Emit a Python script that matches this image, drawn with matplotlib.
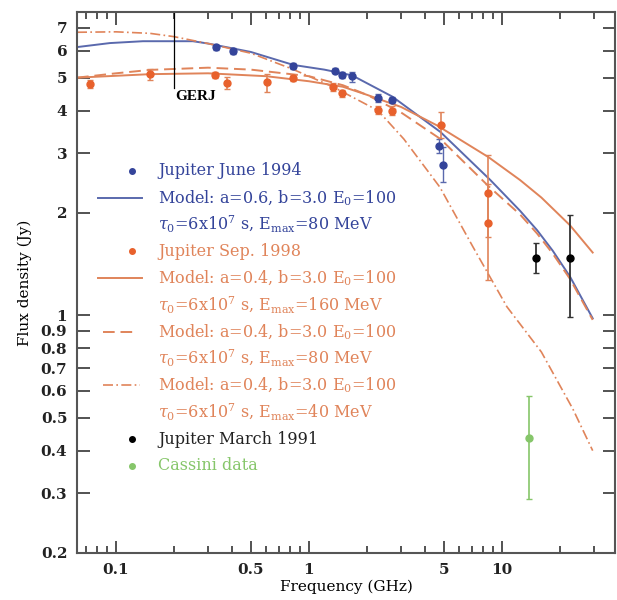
import matplotlib
matplotlib.use('Agg')
import matplotlib.pyplot as plt
from matplotlib.ticker import FixedLocator, FixedFormatter, NullFormatter

plt.rcParams['font.family'] = 'DejaVu Serif'
plt.rcParams['mathtext.fontset'] = 'dejavuserif'

# ---- data ----
# Jupiter June 1994 (blue)
jun94_f = [0.330, 0.404, 0.826, 1.36, 1.48, 1.67, 2.28, 2.69, 4.72, 4.94]
jun94_s = [6.15, 5.97, 5.41, 5.24, 5.10, 5.04, 4.36, 4.30, 3.15, 2.77]
jun94_lo = [6.05, 5.85, 5.30, 5.15, 5.00, 4.85, 4.25, 4.20, 3.00, 2.46]
jun94_hi = [6.25, 6.10, 5.52, 5.33, 5.20, 5.20, 4.47, 4.40, 3.30, 3.13]

# Jupiter Sep. 1998 (orange)
sep98_f = [0.0733, 0.150, 0.326, 0.376, 0.606, 0.826, 1.33, 1.48, 2.28, 2.69, 4.83, 8.46, 8.46]
sep98_s = [4.79, 5.12, 5.09, 4.82, 4.84, 5.00, 4.70, 4.50, 4.02, 4.00, 3.63, 2.29, 1.87]
sep98_lo = [4.65, 4.92, 5.00, 4.62, 4.55, 4.90, 4.58, 4.40, 3.90, 3.88, 3.33, 1.27, 1.70]
sep98_hi = [4.93, 5.32, 5.18, 5.02, 5.13, 5.10, 4.82, 4.60, 4.14, 4.12, 3.96, 2.96, 2.44]

# Jupiter March 1991 (black)
mar91_f = [15.0, 22.5]
mar91_s = [1.47, 1.47]
mar91_lo = [1.33, 0.99]
mar91_hi = [1.63, 1.97]

# Cassini (green)
cas_f = [13.8]
cas_s = [0.435]
cas_lo = [0.288]
cas_hi = [0.58]

# model curves
m1_f = [0.0628, 0.093, 0.138, 0.25, 0.30, 0.50, 0.83, 1.2, 1.67, 2.7, 4.8, 8.7, 12.4, 15.2, 18.3, 22.5, 29.5]
m1_s = [6.15, 6.32, 6.40, 6.40, 6.30, 5.95, 5.45, 5.28, 5.08, 4.40, 3.46, 2.50, 2.03, 1.78, 1.55, 1.30, 0.98]

m2_f = [0.0628, 0.15, 0.30, 0.60, 1.0, 1.5, 2.0, 3.0, 4.6, 8.5, 12.4, 16.0, 22.5, 29.5]
m2_s = [5.00, 5.12, 5.15, 5.05, 4.88, 4.70, 4.45, 4.10, 3.62, 2.92, 2.50, 2.22, 1.84, 1.53]

m3_f = [0.0628, 0.10, 0.15, 0.30, 0.50, 1.0, 1.5, 2.0, 3.0, 4.8, 8.5, 12.4, 15.2, 18.3, 22.5, 29.5]
m3_s = [5.00, 5.15, 5.27, 5.35, 5.28, 5.05, 4.75, 4.45, 3.95, 3.30, 2.40, 1.98, 1.74, 1.52, 1.28, 0.97]

m4_f = [0.0628, 0.10, 0.15, 0.20, 0.30, 0.50, 0.82, 1.33, 2.28, 3.1, 4.77, 7.07, 10.6, 16.0, 23.3, 29.5]
m4_s = [6.80, 6.82, 6.75, 6.60, 6.30, 5.90, 5.30, 4.70, 4.00, 3.30, 2.38, 1.59, 1.06, 0.78, 0.53, 0.40]

yticks = [0.2, 0.3, 0.4, 0.5, 0.6, 0.7, 0.8, 0.9, 1, 2, 3, 4, 5, 6, 7]
ylabels = ['0.2', '0.3', '0.4', '0.5', '0.6', '0.7', '0.8', '0.9', '1', '2', '3', '4', '5', '6', '7']
xticks = [0.1, 0.5, 1, 5, 10]
xlabels = ['0.1', '0.5', '1', '5', '10']
xminor = [0.07, 0.08, 0.09, 0.2, 0.3, 0.4, 0.6, 0.7, 0.8, 0.9, 2, 3, 4, 6, 7, 8, 9, 20, 30]

blue = '#34449a'
blue_l = '#5a69ad'
orng = '#e8612c'
orng_l = '#e0845a'
green = '#86c66a'

fig = plt.figure(figsize=(6.17, 6.0), dpi=100)
ax = fig.add_axes([77/617, 47/600, 538/617, 541/600])
ax.set_xscale('log')
ax.set_yscale('log')

# models
ax.plot(m1_f, m1_s, color=blue_l, lw=1.4)
ax.plot(m2_f, m2_s, color=orng_l, lw=1.4)
ax.plot(m3_f, m3_s, color=orng_l, lw=1.4, dashes=(6, 3))
ax.plot(m4_f, m4_s, color=orng_l, lw=1.2, dashes=(6, 2, 1, 2))

def err(s, lo, hi):
    return [[a - b for a, b in zip(s, lo)], [b - a for a, b in zip(s, hi)]]

ax.errorbar(jun94_f, jun94_s, yerr=err(jun94_s, jun94_lo, jun94_hi), fmt='o', ms=5,
            color=blue, ecolor=blue_l, elinewidth=1, capsize=2.5)
ax.errorbar(sep98_f, sep98_s, yerr=err(sep98_s, sep98_lo, sep98_hi), fmt='o', ms=5,
            color=orng, ecolor=orng_l, elinewidth=1.2, capsize=2.5)
ax.errorbar(mar91_f, mar91_s, yerr=err(mar91_s, mar91_lo, mar91_hi), fmt='o', ms=5,
            color='black', ecolor='#333333', elinewidth=1.3, capsize=2.5)
ax.errorbar(cas_f, cas_s, yerr=err(cas_s, cas_lo, cas_hi), fmt='o', ms=5,
            color=green, ecolor=green, elinewidth=1.2, capsize=2.5)

# GERJ marker
ax.plot([0.2, 0.2], [4.66, 7.8], color='black', lw=0.9)
ax.text(0.203, 4.4, 'GERJ', fontsize=11, fontweight='bold', family='Liberation Serif',
        ha='left', va='center')

ax.set_xlim(0.0628, 38.5)
ax.set_ylim(0.2, 7.8)

ax.xaxis.set_major_locator(FixedLocator(xticks))
ax.xaxis.set_major_formatter(FixedFormatter(xlabels))
ax.xaxis.set_minor_locator(FixedLocator(xminor))
ax.xaxis.set_minor_formatter(NullFormatter())
ax.yaxis.set_major_locator(FixedLocator(yticks))
ax.yaxis.set_major_formatter(FixedFormatter(ylabels))
ax.yaxis.set_minor_locator(FixedLocator([]))
ax.tick_params(which='both', direction='in', top=True, right=True, width=1.3, colors='#444444',
               labelcolor='#222222', labelsize=11)
ax.tick_params(which='major', length=9, pad=7)
ax.tick_params(which='minor', length=5)
for lab in ax.get_xticklabels() + ax.get_yticklabels():
    lab.set_fontweight('bold')
for sp in ax.spines.values():
    sp.set_linewidth(1.5)
    sp.set_color('#555555')

ax.set_xlabel('Frequency (GHz)', fontsize=11, labelpad=2)
ax.set_ylabel('Flux density (Jy)', fontsize=11, labelpad=6)

# hand-made legend (axes fraction)
def fx(px):
    return (px - 77) / 538

def fy(py):
    return (553 - py) / 541

rows = [171 + 26.8 * i for i in range(12)]
txt_x = fx(158)
entries = [
    ('dot', blue, blue, 'Jupiter June 1994'),
    ('solid', blue_l, blue, 'Model: a=0.6, b=3.0 E$_0$=100'),
    (None, None, blue, r'$\tau_0$=6x10$^7$ s, E$_{\rm max}$=80 MeV'),
    ('dot', orng, orng_l, 'Jupiter Sep. 1998'),
    ('solid', orng_l, orng_l, 'Model: a=0.4, b=3.0 E$_0$=100'),
    (None, None, orng_l, r'$\tau_0$=6x10$^7$ s, E$_{\rm max}$=160 MeV'),
    ('dash', orng_l, orng_l, 'Model: a=0.4, b=3.0 E$_0$=100'),
    (None, None, orng_l, r'$\tau_0$=6x10$^7$ s, E$_{\rm max}$=80 MeV'),
    ('dashdot', orng_l, orng_l, 'Model: a=0.4, b=3.0 E$_0$=100'),
    (None, None, orng_l, r'$\tau_0$=6x10$^7$ s, E$_{\rm max}$=40 MeV'),
    ('dot', 'black', '#222222', 'Jupiter March 1991'),
    ('dot', green, green, 'Cassini data'),
]
for yy, (kind, hc, tc, label) in zip(rows, entries):
    y = fy(yy)
    if kind == 'dot':
        ax.plot([fx(132)], [y], 'o', ms=4, color=hc, transform=ax.transAxes)
    elif kind == 'solid':
        ax.plot([fx(98), fx(142)], [y, y], color=hc, lw=1.4, transform=ax.transAxes)
    elif kind == 'dash':
        ax.plot([fx(103), fx(137)], [y, y], color=hc, lw=1.4, dashes=(6, 3), transform=ax.transAxes)
    elif kind == 'dashdot':
        ax.plot([fx(103), fx(140)], [y, y], color=hc, lw=1.2, dashes=(6, 2, 1, 2), transform=ax.transAxes)
    ax.text(txt_x, y, label, color=tc, fontsize=11.5, ha='left', va='center', transform=ax.transAxes)

fig.savefig('out.png', dpi=100)
